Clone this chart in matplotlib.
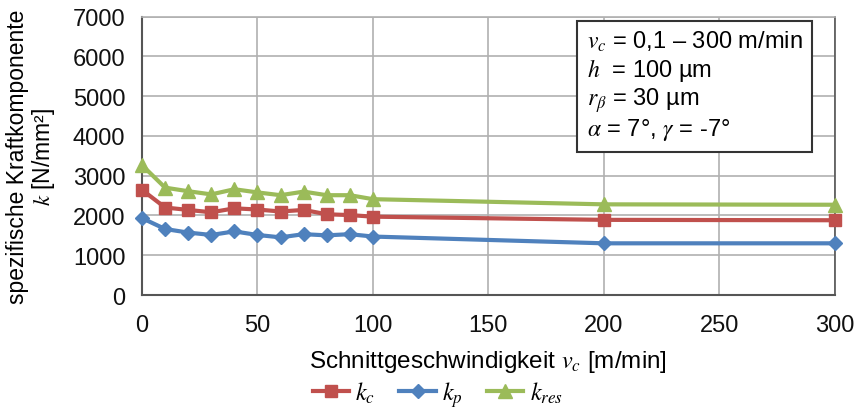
import matplotlib
matplotlib.use("Agg")
import matplotlib.pyplot as plt

plt.rcParams['font.family'] = ['Liberation Sans', 'DejaVu Sans']
plt.rcParams['mathtext.fontset'] = 'stix'

vc = [0.1, 10, 20, 30, 40, 50, 60, 70, 80, 90, 100, 200, 300]
k_c = [2640, 2200, 2140, 2080, 2180, 2150, 2100, 2140, 2030, 2010, 1970, 1890, 1880]
k_p = [1930, 1660, 1570, 1510, 1600, 1510, 1450, 1530, 1500, 1530, 1470, 1300, 1300]
k_res = [3260, 2700, 2610, 2530, 2660, 2580, 2510, 2600, 2510, 2510, 2410, 2280, 2270]

xticks = [0, 50, 100, 150, 200, 250, 300]
yticks = [0, 1000, 2000, 3000, 4000, 5000, 6000, 7000]

fig = plt.figure(figsize=(8.58, 4.10), dpi=100)
ax = fig.add_axes([0.1655, 0.278, 0.8075, 0.679])

red = '#c0504d'
blue = '#4f81bd'
green = '#9bbb59'

ax.plot(vc, k_c, color=red, marker='s', markersize=9, lw=3, label='$k_c$', zorder=3, clip_on=False)
ax.plot(vc, k_p, color=blue, marker='D', markersize=7, lw=3, label='$k_p$', zorder=3, clip_on=False)
ax.plot(vc, k_res, color=green, marker='^', markersize=10, lw=3, label='$k_{res}$', zorder=3, clip_on=False)

ax.set_xlim(0, 300)
ax.set_ylim(0, 7000)
ax.set_xticks(xticks)
ax.set_yticks(yticks)
ax.grid(True, color='#b0b0b0', lw=1.2)
ax.set_axisbelow(True)
ax.spines['top'].set_color('#b0b0b0')
ax.spines['top'].set_linewidth(1.2)
ax.spines['right'].set_color('#555555')
ax.spines['right'].set_linewidth(1.2)
for s in ['left', 'bottom']:
    ax.spines[s].set_color('#555555')
    ax.spines[s].set_linewidth(1.5)
ax.tick_params(axis='y', length=0, labelsize=17, pad=12, colors='#111111')
ax.tick_params(axis='x', length=0, labelsize=17, pad=14, colors='#111111')

ax.set_xlabel('Schnittgeschwindigkeit $v_c$ [m/min]', fontsize=17.5, labelpad=8)
ax.set_ylabel('spezifische Kraftkomponente\n$k$ [N/mm²]', fontsize=16.5, linespacing=1.05)
ax.yaxis.set_label_coords(-0.123, 0.5)

txt = ('$v_c$ = 0,1 – 300 m/min\n'
       '$h$  = 100 µm\n'
       '$r_\\beta$ = 30 µm\n'
       '$\\alpha$ = 7°, $\\gamma$ = -7°')
ax.text(0.642, 0.955, txt, transform=ax.transAxes, fontsize=17, va='top', ha='left',
        linespacing=1.12,
        bbox=dict(boxstyle='square,pad=0.42', facecolor='white', edgecolor='#333333', lw=1.5),
        zorder=5)

leg = fig.legend(loc='center', bbox_to_anchor=(0.51, 0.036), ncol=3, frameon=False,
                 fontsize=17.5, handlelength=1.5, columnspacing=1.0, handletextpad=0.25)

fig.savefig('out.png', dpi=100)
